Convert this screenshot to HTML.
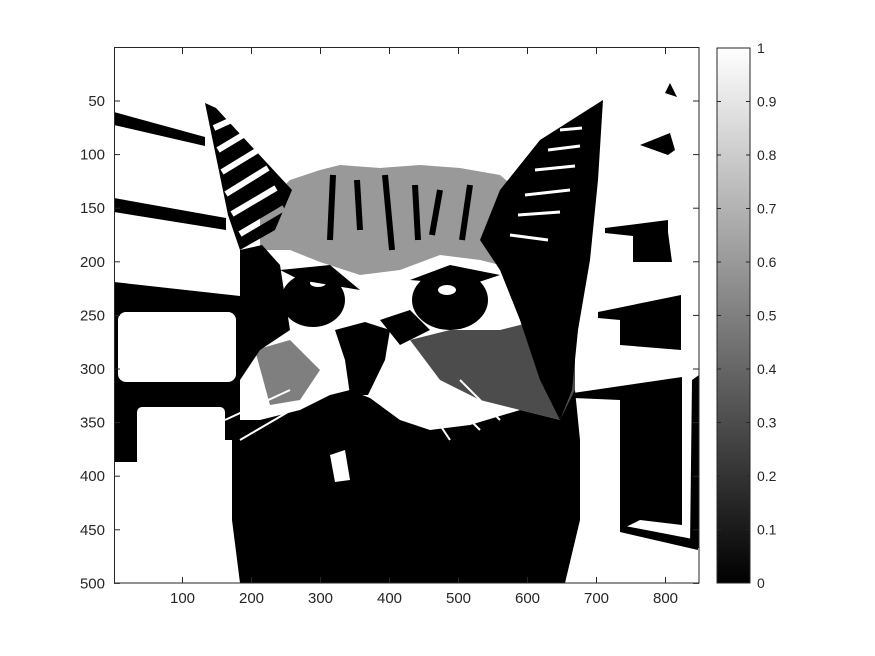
<!DOCTYPE html>
<html><head><meta charset="utf-8"><style>
html,body{margin:0;padding:0;background:#fff;}
svg{display:block;font-family:"Liberation Sans","Noto Sans CJK JP",sans-serif;}
</style></head><body>
<svg id="fig" width="875" height="656" viewBox="0 0 875 656">
<defs>
<linearGradient id="cg" x1="0" y1="1" x2="0" y2="0"><stop offset="0" stop-color="#000"/><stop offset="1" stop-color="#fff"/></linearGradient>
<clipPath id="ax"><rect x="114" y="48" width="585" height="535"/></clipPath>
</defs>
<rect width="875" height="656" fill="#fff"/>
<g clip-path="url(#ax)">
<rect x="114" y="48" width="585" height="535" fill="#fff"/>
<polygon points="114,112 205,137 205,146 114,125" fill="#000"/>
<polygon points="114,198 226,218 226,230 114,212" fill="#000"/>
<polygon points="114,282 240,296 240,462 114,462" fill="#000"/>
<rect x="118" y="312" width="118" height="70" rx="8" fill="#fff"/>
<rect x="137" y="407" width="88" height="60" rx="5" fill="#fff"/>
<rect x="114" y="462" width="120" height="121" fill="#fff"/>
<rect x="137" y="440" width="95" height="143" fill="#fff"/>
<polygon points="205,103 216,108 292,190 275,230 240,250 228,215" fill="#000"/>
<g stroke="#fff" stroke-width="6" fill="none">
<path d="M214,128 L236,118"/><path d="M218,150 L248,132"/><path d="M222,172 L258,150"/><path d="M226,194 L268,168"/><path d="M232,214 L276,188"/><path d="M240,234 L284,208"/>
</g>
<polygon points="260,210 290,180 320,170 340,165 380,168 420,165 460,168 500,175 530,200 560,230 575,260 560,290 520,270 480,260 440,255 400,270 360,275 320,262 290,250 260,250" fill="#000" opacity="0.4"/>
<g stroke="#000" stroke-width="6">
<path d="M333,175 L330,240"/><path d="M357,180 L360,230"/><path d="M385,175 L392,250"/><path d="M415,185 L418,240"/><path d="M440,190 L432,235"/><path d="M470,185 L462,240"/>
</g>
<polygon points="240,250 262,245 280,265 290,330 260,350 240,380 232,420 240,460" fill="#000"/>
<polygon points="603,100 598,180 590,260 578,330 572,390 560,420 540,380 520,320 500,270 480,240 500,190 540,140" fill="#000"/>
<g stroke="#fff" stroke-width="3" fill="none">
<path d="M560,130 L582,128"/><path d="M548,150 L580,146"/><path d="M535,170 L575,166"/><path d="M525,195 L570,190"/><path d="M518,215 L560,212"/><path d="M510,235 L548,240"/>
</g>
<ellipse cx="313" cy="300" rx="32" ry="27" fill="#000"/>
<ellipse cx="318" cy="283" rx="8" ry="4" fill="#fff"/>
<ellipse cx="450" cy="300" rx="38" ry="30" fill="#000"/>
<ellipse cx="447" cy="290" rx="9" ry="5" fill="#fff"/>
<polygon points="280,270 330,265 360,290 300,280" fill="#000"/>
<polygon points="410,280 450,265 500,275 470,285" fill="#000"/>
<polygon points="335,330 365,322 390,330 385,360 368,395 350,395 345,360" fill="#000"/>
<polygon points="380,320 410,310 430,330 400,345" fill="#000"/>
<polygon points="232,420 260,420 300,410 330,395 350,390 370,398 400,420 430,430 470,425 520,410 560,420 575,390 580,440 580,520 565,583 240,583 232,520" fill="#000"/>
<polygon points="410,340 450,330 500,330 540,320 560,300 575,330 575,400 560,420 520,410 480,400 440,380" fill="#000" opacity="0.7"/>
<polygon points="255,350 290,340 320,370 300,400 270,405" fill="#000" opacity="0.5"/>
<g stroke="#fff" stroke-width="2" fill="none">
<path d="M225,420 L290,390"/><path d="M240,440 L300,405"/><path d="M440,390 L480,430"/><path d="M460,380 L500,420"/><path d="M420,395 L450,440"/>
</g>
<polygon points="330,455 345,450 350,480 335,482" fill="#fff"/>
<polygon points="665,93 670,83 677,97" fill="#000"/>
<polygon points="640,145 670,133 675,150 668,155" fill="#000"/>
<polygon points="605,228 668,220 668,232 672,262 633,262 633,236 605,233" fill="#000"/>
<polygon points="598,312 681,295 681,350 620,345 620,320 598,318" fill="#000"/>
<polygon points="573,393 682,377 682,525 640,520 620,530 620,400 574,398" fill="#000"/>
<polygon points="692,380 699,375 699,548 690,548" fill="#000"/>
<polygon points="620,525 698,540 698,550 620,532" fill="#000"/>
</g>
<rect x="114.5" y="47.5" width="584.5" height="535.5" fill="none" stroke="#262626" stroke-width="1"/>
<g id="xt"></g>
<g id="yt"></g>
<rect x="717" y="48" width="33" height="535" fill="url(#cg)" stroke="#262626" stroke-width="1"/>
<g id="ct"></g>
</svg>
<script>
const xTicks=[100,200,300,400,500,600,700,800];
const yTicks=[50,100,150,200,250,300,350,400,450,500];
const cTicks=[0,0.1,0.2,0.3,0.4,0.5,0.6,0.7,0.8,0.9,1];
const NS="http://www.w3.org/2000/svg";
const xs=v=>113.5+v*0.69, ys=v=>47.4+v*1.072, cs=v=>583-v*535;
function mk(t,a,p){const e=document.createElementNS(NS,t);for(const k in a)e.setAttribute(k,a[k]);p.appendChild(e);return e;}
const xt=document.getElementById('xt'),yt=document.getElementById('yt'),ct=document.getElementById('ct');
xTicks.forEach(v=>{const x=xs(v);
mk('line',{x1:x,x2:x,y1:583,y2:577,stroke:'#262626'},xt);mk('line',{x1:x,x2:x,y1:48,y2:54,stroke:'#262626'},xt);
const t=mk('text',{x:x,y:603,'text-anchor':'middle','font-size':15,fill:'#262626'},xt);t.textContent=v;

});
yTicks.forEach(v=>{const y=ys(v);
mk('line',{x1:114,x2:120,y1:y,y2:y,stroke:'#262626'},yt);mk('line',{x1:699,x2:693,y1:y,y2:y,stroke:'#262626'},yt);
const t=mk('text',{x:105,y:y+5,'text-anchor':'end','font-size':15,fill:'#262626'},yt);t.textContent=v;

});
cTicks.forEach(v=>{const y=cs(v);
mk('line',{x1:717,x2:721,y1:y,y2:y,stroke:'#262626'},ct);mk('line',{x1:750,x2:746,y1:y,y2:y,stroke:'#262626'},ct);
const t=mk('text',{x:757,y:y+5,'font-size':14,fill:'#262626'},ct);t.textContent=v;

});
</script>
</body></html>
